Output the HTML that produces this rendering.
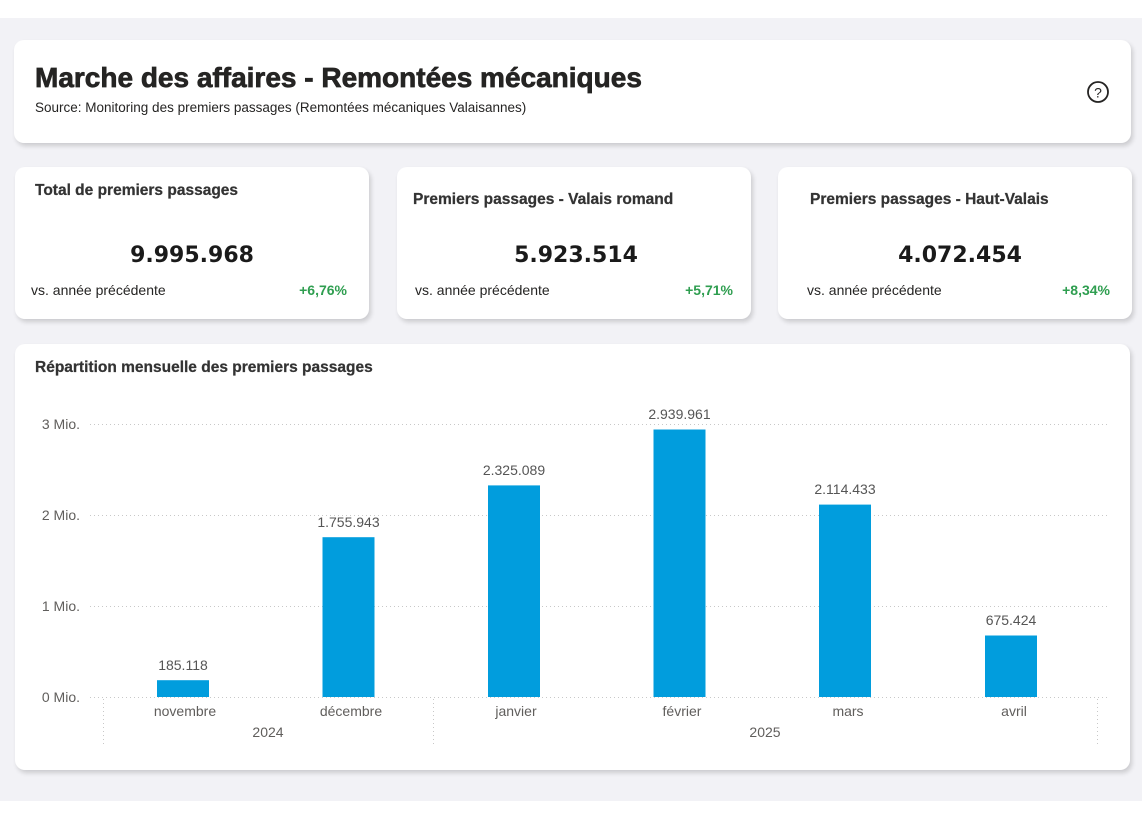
<!DOCTYPE html>
<html><head><meta charset="utf-8"><style>
html,body{margin:0;padding:0;}
body{width:1142px;height:820px;position:relative;background:#fff;overflow:hidden;font-family:"Liberation Sans",sans-serif;}
.bg{position:absolute;left:0;top:18px;width:1142px;height:783px;background:#f2f2f6;}
.card{position:absolute;background:#fff;border-radius:10px;box-shadow:2px 3px 5px rgba(0,0,0,0.16);}
svg{position:absolute;left:0;top:0;}
</style></head><body>
<div class="bg"></div>
<div class="card" style="left:14px;top:40px;width:1117px;height:103px;"></div>
<div class="card" style="left:15px;top:167px;width:354px;height:152px;"></div>
<div class="card" style="left:397px;top:167px;width:354px;height:152px;"></div>
<div class="card" style="left:778px;top:167px;width:354px;height:152px;"></div>
<div class="card" style="left:15px;top:344px;width:1115px;height:426px;"></div>
<svg width="1142" height="820" viewBox="0 0 1142 820" xmlns="http://www.w3.org/2000/svg" font-family="Liberation Sans, sans-serif">
  <!-- header -->
  <text x="35" y="87" font-size="28" font-weight="bold" fill="#252423" stroke="#252423" stroke-width="0.7">Marche des affaires - Remontées mécaniques</text>
  <text x="35" y="112" font-size="13.5" fill="#252423">Source: Monitoring des premiers passages (Remontées mécaniques Valaisannes)</text>
  <circle cx="1098" cy="92" r="10" fill="none" stroke="#252423" stroke-width="1.8"/>
  <text x="1098" y="97.5" font-size="14" fill="#252423" text-anchor="middle">?</text>

  <!-- KPI 1 -->
  <text x="35" y="195" font-size="15.5" font-weight="bold" fill="#333" stroke="#333" stroke-width="0.25">Total de premiers passages</text>
  <text x="192" y="262" font-size="22" font-weight="bold" fill="#1a1a1a" text-anchor="middle" font-family="DejaVu Sans, sans-serif">9.995.968</text>
  <text x="31" y="295" font-size="14" fill="#252423">vs. année précédente</text>
  <text x="347" y="295" font-size="14" font-weight="bold" fill="#2f9e50" text-anchor="end">+6,76%</text>

  <!-- KPI 2 -->
  <text x="413" y="204" font-size="15.5" font-weight="bold" fill="#333" stroke="#333" stroke-width="0.25">Premiers passages - Valais romand</text>
  <text x="576" y="262" font-size="22" font-weight="bold" fill="#1a1a1a" text-anchor="middle" font-family="DejaVu Sans, sans-serif">5.923.514</text>
  <text x="415" y="295" font-size="14" fill="#252423">vs. année précédente</text>
  <text x="733" y="295" font-size="14" font-weight="bold" fill="#2f9e50" text-anchor="end">+5,71%</text>

  <!-- KPI 3 -->
  <text x="810" y="204" font-size="15.5" font-weight="bold" fill="#333" stroke="#333" stroke-width="0.25">Premiers passages - Haut-Valais</text>
  <text x="960" y="262" font-size="22" font-weight="bold" fill="#1a1a1a" text-anchor="middle" font-family="DejaVu Sans, sans-serif">4.072.454</text>
  <text x="807" y="295" font-size="14" fill="#252423">vs. année précédente</text>
  <text x="1110" y="295" font-size="14" font-weight="bold" fill="#2f9e50" text-anchor="end">+8,34%</text>

  <!-- chart -->
  <text x="35" y="372" font-size="15.5" font-weight="bold" fill="#333" stroke="#333" stroke-width="0.25">Répartition mensuelle des premiers passages</text>
  <g stroke="#c8c8c8" stroke-width="1" stroke-dasharray="1 3">
    <line x1="90" y1="424.5" x2="1108" y2="424.5"/>
    <line x1="90" y1="515.5" x2="1108" y2="515.5"/>
    <line x1="90" y1="606.5" x2="1108" y2="606.5"/>
    <line x1="90" y1="697.5" x2="1108" y2="697.5"/>
    <line x1="103.5" y1="699" x2="103.5" y2="745"/>
    <line x1="433.5" y1="699" x2="433.5" y2="745"/>
    <line x1="1097.5" y1="699" x2="1097.5" y2="745"/>
  </g>
  <g font-size="14" fill="#605e5c" text-anchor="end">
    <text x="80" y="429">3 Mio.</text>
    <text x="80" y="520">2 Mio.</text>
    <text x="80" y="611">1 Mio.</text>
    <text x="80" y="702">0 Mio.</text>
  </g>
  <g fill="#019ddd">
    <rect x="157" y="680.2" width="52" height="16.8"/>
    <rect x="322.5" y="537.2" width="52" height="159.8"/>
    <rect x="488" y="485.4" width="52" height="211.6"/>
    <rect x="653.5" y="429.5" width="52" height="267.5"/>
    <rect x="819" y="504.6" width="52" height="192.4"/>
    <rect x="985" y="635.5" width="52" height="61.5"/>
  </g>
  <g font-size="14" fill="#555" text-anchor="middle">
    <text x="183" y="670">185.118</text>
    <text x="348.5" y="527">1.755.943</text>
    <text x="514" y="475">2.325.089</text>
    <text x="679.5" y="419">2.939.961</text>
    <text x="845" y="494">2.114.433</text>
    <text x="1011" y="625">675.424</text>
  </g>
  <g font-size="14" fill="#605e5c" text-anchor="middle">
    <text x="185" y="716">novembre</text>
    <text x="351" y="716">décembre</text>
    <text x="516" y="716">janvier</text>
    <text x="682" y="716">février</text>
    <text x="848" y="716">mars</text>
    <text x="1014" y="716">avril</text>
    <text x="268" y="737">2024</text>
    <text x="765" y="737">2025</text>
  </g>
</svg>
</body></html>
